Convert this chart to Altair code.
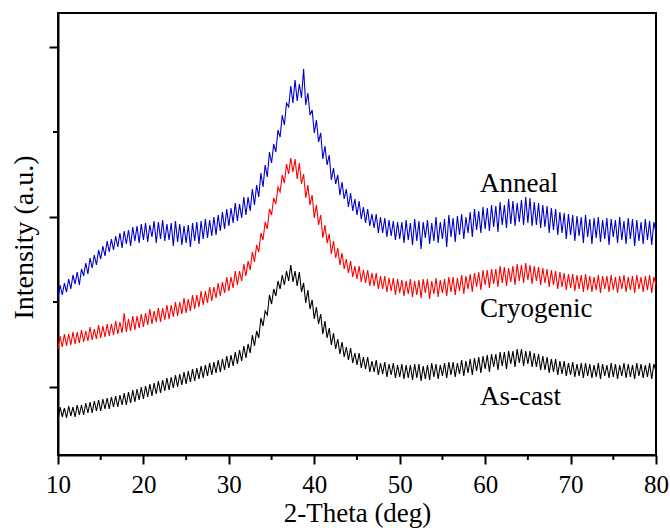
import altair as alt
import pandas as pd

# 2-Theta sampling grid (deg), 0.25 deg step from 10 to 80
two_theta = [10 + 0.25 * i for i in range(281)]

# Intensities (a.u.) (height above the lower frame)
anneal = [
    156, 170, 160, 172, 163, 176, 166, 180, 171, 183, 170, 186, 179, 192, 181, 197,
    187, 200, 190, 205, 196, 209, 199, 214, 203, 216, 205, 219, 208, 222, 207, 224,
    211, 225, 209, 228, 214, 229, 212, 231, 215, 232, 213, 230, 218, 234, 212, 233,
    216, 235, 214, 231, 215, 232, 209, 234, 213, 231, 210, 229, 212, 230, 208, 232,
    214, 233, 211, 234, 216, 236, 217, 235, 219, 238, 220, 240, 224, 243, 226, 246,
    229, 247, 232, 252, 234, 251, 237, 258, 240, 258, 244, 266, 250, 270, 258, 282,
    268, 290, 278, 303, 292, 311, 303, 325, 318, 340, 330, 352, 348, 369, 352, 375,
    354, 371, 357, 386, 350, 362, 340, 345, 322, 335, 313, 322, 296, 309, 290, 300,
    275, 287, 271, 280, 260, 273, 256, 266, 248, 262, 244, 256, 240, 254, 236, 248,
    232, 246, 229, 241, 227, 241, 222, 238, 222, 237, 218, 235, 219, 234, 215, 233,
    216, 233, 212, 235, 215, 232, 210, 236, 214, 234, 206, 233, 217, 235, 211, 232,
    214, 238, 212, 233, 216, 236, 208, 240, 218, 237, 213, 239, 220, 241, 216, 238,
    222, 243, 218, 246, 225, 244, 222, 248, 226, 247, 224, 250, 228, 249, 223, 253,
    230, 250, 227, 256, 231, 254, 229, 252, 233, 255, 230, 258, 232, 257, 229, 253,
    230, 252, 227, 250, 228, 249, 222, 247, 225, 246, 220, 243, 222, 242, 216, 241,
    220, 240, 214, 239, 219, 238, 212, 240, 218, 236, 211, 237, 217, 238, 213, 235,
    216, 237, 210, 236, 218, 235, 212, 238, 215, 234, 211, 237, 216, 236, 209, 235,
    214, 233, 211, 236, 215, 234, 210, 233, 222,
]
cryogenic = [
    106, 119, 108, 121, 109, 121, 110, 123, 111, 123, 112, 125, 113, 124, 114, 128,
    115, 126, 116, 130, 117, 129, 118, 131, 119, 131, 120, 134, 121, 133, 122, 142,
    123, 136, 124, 139, 125, 139, 127, 141, 128, 142, 130, 146, 131, 144, 133, 147,
    133, 147, 135, 150, 136, 150, 138, 153, 139, 153, 141, 157, 142, 156, 144, 160,
    146, 160, 148, 164, 150, 164, 152, 168, 154, 168, 157, 172, 159, 173, 162, 178,
    164, 178, 167, 184, 170, 184, 174, 191, 179, 194, 185, 203, 193, 210, 203, 222,
    215, 233, 226, 246, 240, 257, 251, 268, 263, 280, 272, 291, 281, 297, 283, 296,
    276, 292, 271, 281, 257, 270, 250, 260, 237, 250, 230, 240, 217, 230, 212, 221,
    201, 214, 197, 207, 190, 202, 186, 196, 182, 194, 178, 189, 176, 189, 173, 185,
    172, 185, 169, 182, 169, 182, 166, 179, 166, 179, 163, 177, 164, 177, 160, 176,
    162, 175, 159, 174, 161, 176, 158, 174, 160, 175, 157, 176, 162, 176, 156, 174,
    161, 177, 158, 175, 162, 176, 159, 178, 163, 178, 160, 177, 164, 180, 161, 179,
    166, 181, 163, 182, 168, 183, 165, 185, 170, 185, 167, 186, 171, 186, 168, 189,
    172, 188, 169, 187, 173, 189, 170, 191, 174, 190, 172, 192, 175, 190, 171, 189,
    174, 188, 170, 187, 172, 186, 168, 185, 170, 184, 166, 183, 168, 182, 165, 181,
    167, 181, 164, 180, 166, 180, 163, 181, 165, 179, 163, 178, 165, 180, 162, 179,
    166, 179, 163, 180, 165, 178, 162, 179, 166, 180, 163, 178, 165, 179, 162, 180,
    166, 178, 163, 179, 165, 180, 162, 178, 170,
]
as_cast = [
    36, 48, 38, 47, 37, 49, 39, 48, 38, 50, 40, 50, 40, 52, 42, 53,
    42, 54, 44, 55, 44, 56, 46, 57, 46, 58, 48, 59, 48, 60, 50, 62,
    50, 63, 52, 65, 53, 66, 55, 68, 56, 69, 58, 71, 59, 72, 61, 74,
    62, 75, 64, 77, 65, 78, 67, 80, 68, 81, 70, 83, 71, 84, 73, 86,
    74, 87, 76, 89, 77, 90, 79, 92, 80, 93, 82, 95, 83, 96, 85, 99,
    87, 100, 89, 103, 91, 105, 94, 109, 97, 111, 102, 120, 109, 124, 117, 137,
    129, 144, 140, 160, 151, 166, 159, 174, 166, 180, 170, 184, 174, 190, 173, 184,
    169, 183, 163, 172, 152, 165, 146, 155, 136, 148, 131, 141, 121, 134, 117, 127,
    110, 122, 106, 116, 101, 113, 98, 108, 95, 107, 92, 102, 90, 102, 87, 98,
    86, 98, 83, 94, 83, 95, 80, 92, 81, 93, 78, 91, 80, 92, 77, 90,
    78, 91, 76, 90, 77, 90, 75, 91, 77, 91, 74, 89, 76, 90, 75, 92,
    78, 91, 76, 90, 79, 92, 77, 93, 80, 93, 78, 92, 81, 95, 79, 94,
    82, 96, 80, 97, 84, 98, 82, 99, 86, 100, 83, 101, 88, 101, 85, 103,
    89, 103, 86, 104, 91, 104, 88, 106, 92, 106, 89, 104, 91, 104, 88, 102,
    88, 101, 85, 99, 85, 98, 82, 96, 83, 96, 80, 94, 81, 94, 79, 92,
    80, 93, 78, 91, 79, 92, 77, 92, 79, 91, 77, 90, 78, 92, 76, 91,
    79, 90, 77, 92, 78, 91, 76, 90, 79, 92, 77, 91, 78, 90, 76, 92,
    79, 91, 77, 90, 78, 92, 76, 91, 84,
]

series_names = ["As-cast", "Cryogenic", "Anneal"]
series_colors = ["#000000", "#ff0000", "#0000cc"]

# Curve labels
label_text = ["Anneal", "Cryogenic", "As-cast"]
label_x = [59.4, 59.4, 59.4]
label_y = [263, 138, 50]

# Axis ticks
x_major = [10, 20, 30, 40, 50, 60, 70, 80]
x_minor = [15, 25, 35, 45, 55, 65, 75]
y_major = [68, 238, 408]
y_minor = [153, 323]

assert len(anneal) == len(cryogenic) == len(as_cast) == len(two_theta)

rows = []
for name, vals in zip(series_names, [as_cast, cryogenic, anneal]):
    for t, v in zip(two_theta, vals):
        rows.append({"theta": t, "intensity": v, "sample": name})
df = pd.DataFrame(rows)

FONT = "Liberation Serif"
W, H = 598, 442

xscale = alt.Scale(domain=[10, 80], nice=False, zero=False)
yscale = alt.Scale(domain=[0, 442], nice=False, zero=False)

x_axis = alt.Axis(
    values=x_major, title="2-Theta (deg)", tickSize=9, tickWidth=2,
    labelFont=FONT, labelFontSize=25, labelBaseline="alphabetic",
    labelPadding=28, labelFlush=False, labelOverlap=False, labelColor="black",
    titleFont=FONT, titleFontSize=27, titleFontWeight="normal",
    titleBaseline="alphabetic", titleY=66, titleColor="black",
    domainColor="black", domainWidth=2, tickColor="black", grid=False)
y_axis = alt.Axis(
    values=y_major, labels=False, title="Intensity (a.u.)", tickSize=9,
    tickWidth=2, titleFont=FONT, titleFontSize=28, titleFontWeight="normal",
    titleBaseline="alphabetic", titleX=-26, titleY=224, titleAngle=270,
    titleAlign="center", titleColor="black",
    domainColor="black", domainWidth=2, tickColor="black", grid=False)

lines = alt.Chart(df).mark_line(strokeWidth=1.1).encode(
    x=alt.X("theta:Q", scale=xscale, axis=x_axis),
    y=alt.Y("intensity:Q", scale=yscale, axis=y_axis),
    color=alt.Color("sample:N", scale=alt.Scale(domain=series_names, range=series_colors), legend=None),
    detail="sample:N",
)

labels_df = pd.DataFrame({"t": label_text, "theta": label_x, "intensity": label_y})
labels = alt.Chart(labels_df).mark_text(
    font=FONT, fontSize=27, align="left", baseline="alphabetic", color="black"
).encode(
    x=alt.X("theta:Q", scale=xscale, axis=x_axis),
    y=alt.Y("intensity:Q", scale=yscale, axis=y_axis),
    text="t:N",
)

xminor = alt.Chart(pd.DataFrame({"theta": x_minor})).mark_rule(color="black", strokeWidth=2).encode(
    x=alt.X("theta:Q", scale=xscale, axis=x_axis),
    y=alt.value(H),
    y2=alt.value(H + 5),
)
yminor = alt.Chart(pd.DataFrame({"intensity": y_minor})).mark_rule(color="black", strokeWidth=2).encode(
    y=alt.Y("intensity:Q", scale=yscale, axis=y_axis),
    x=alt.value(0),
    x2=alt.value(-5),
)

chart = alt.layer(lines, labels, xminor, yminor).properties(
    width=W, height=H,
    autosize=alt.AutoSizeParams(type="none"),
    padding={"left": 58, "top": 13, "right": 14, "bottom": 73},
    background="white",
).configure_view(stroke="black", strokeWidth=2)

chart.save("out.html", embed_options={"renderer": "svg", "actions": False})
